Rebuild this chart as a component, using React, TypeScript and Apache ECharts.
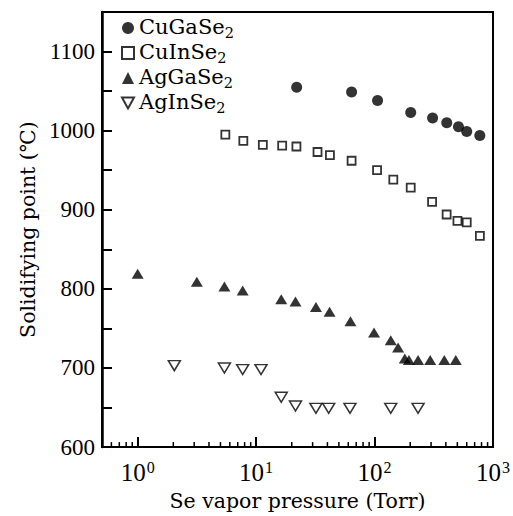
import React, { useEffect, useRef } from "react";
import * as echarts from "echarts";

const seriesNames = ["CuGaSe2", "CuInSe2", "AgGaSe2", "AgInSe2"];

const cuGaSe2X = [22, 64, 106, 202, 309, 407, 511, 600, 774];
const cuGaSe2Y = [1055, 1049, 1038, 1023, 1016, 1010, 1005, 999, 994];

const cuInSe2X = [5.5, 7.8, 11.4, 16.6, 21.9, 33, 42, 64, 105, 144, 202, 306, 406, 501, 600, 775];
const cuInSe2Y = [995, 987, 982, 981, 980, 973, 969, 962, 950, 938, 928, 910, 894, 886, 884, 867];

const agGaSe2X = [1.0, 3.16, 5.4, 7.7, 16.3, 21.5, 32, 41.7, 62.6, 99, 137, 158, 180, 195, 233, 295, 388, 485];
const agGaSe2Y = [819, 809, 803, 798, 787, 784, 777, 771, 759, 745, 735, 726, 712, 710, 710, 710, 710, 710];

const agInSe2X = [2.04, 5.4, 7.7, 11, 16.3, 21.5, 32, 41, 62, 137, 233];
const agInSe2Y = [703, 700, 698, 698, 663, 652, 649, 649, 649, 649, 649];

const xMin = 0.5;
const xMax = 1000;
const yMin = 600;
const yMax = 1150;
const xMinorTicks = [0.6, 0.7, 0.8, 0.9, 2, 3, 4, 5, 6, 7, 8, 9, 20, 30, 40, 50, 60, 70, 80, 90, 200, 300, 400, 500, 600, 700, 800, 900];

const TEXT_FONT = "DejaVu Serif";
const NUM_FONT = "Liberation Serif";

function zip(xs: number[], ys: number[]) {
  return xs.map((x, i) => [x, ys[i]]);
}

export default function App() {
  const ref = useRef<HTMLDivElement>(null);
  useEffect(() => {
    document.body.style.margin = "0";
    const chart = echarts.init(ref.current!, null, { renderer: "svg" });
    const downTri = "path://M0,0L10,0L5,9Z";
    chart.setOption({
      animation: false,
      backgroundColor: "#fff",
      grid: {
        left: 102,
        right: 17,
        top: 12,
        bottom: 66,
        show: true,
        borderColor: "#000",
        borderWidth: 2,
        backgroundColor: "transparent",
      },
      legend: {
        data: seriesNames,
        orient: "vertical",
        left: 121,
        top: 16,
        padding: 0,
        itemWidth: 12,
        itemHeight: 12,
        itemGap: 1,
        selectedMode: false,
        formatter: (name: string) => `{t|${name.slice(0, -1)}}{sub|${name.slice(-1)}}`,
        textStyle: {
          rich: {
            t: { fontFamily: TEXT_FONT, fontSize: 21, color: "#000", lineHeight: 24, verticalAlign: "top" },
            sub: { fontFamily: TEXT_FONT, fontSize: 14.5, color: "#000", lineHeight: 12, verticalAlign: "bottom" },
          },
        },
      },
      xAxis: {
        type: "log",
        logBase: 10,
        min: xMin,
        max: xMax,
        name: "Se vapor pressure (Torr)",
        nameLocation: "middle",
        nameGap: 41,
        nameTextStyle: { fontFamily: TEXT_FONT, fontSize: 20.5, color: "#000" },
        axisLine: { lineStyle: { color: "#000", width: 2 } },
        axisTick: { inside: true, length: 10, lineStyle: { color: "#000", width: 2 } },
        splitLine: { show: false },
        axisLabel: {
          margin: 12,
          formatter: (v: number) => {
            const e = Math.log10(v);
            const r = Math.round(e);
            if (Math.abs(e - r) > 1e-6) return "";
            return `{b|10}{s|${r}}`;
          },
          rich: {
            b: { fontFamily: NUM_FONT, fontSize: 25, color: "#000", lineHeight: 26, verticalAlign: "bottom" },
            s: { fontFamily: NUM_FONT, fontSize: 16, color: "#000", lineHeight: 15, verticalAlign: "top", padding: [0, 0, 0, 1] },
          },
        },
      },
      yAxis: {
        type: "value",
        min: yMin,
        max: yMax,
        interval: 50,
        name: "Solidifying point (℃)",
        nameLocation: "middle",
        nameGap: 58,
        nameTextStyle: { fontFamily: TEXT_FONT, fontSize: 20.5, color: "#000" },
        axisLine: { show: true, lineStyle: { color: "#000", width: 2.5 } },
        axisTick: { inside: true, length: 10, lineStyle: { color: "#000", width: 2 } },
        splitLine: { show: false },
        axisLabel: {
          margin: 7,
          fontFamily: NUM_FONT,
          fontSize: 23,
          color: "#000",
          formatter: (v: number) => (v % 100 === 0 ? String(v) : ""),
        },
      },
      series: [
        {
          name: "CuGaSe2",
          type: "scatter",
          symbol: "circle",
          symbolSize: 11,
          itemStyle: { color: "#000" },
          data: zip(cuGaSe2X, cuGaSe2Y),
        },
        {
          name: "CuInSe2",
          type: "scatter",
          symbol: "rect",
          symbolSize: 8,
          itemStyle: { color: "#fff", borderColor: "#000", borderWidth: 1.8 },
          data: zip(cuInSe2X, cuInSe2Y),
        },
        {
          name: "AgGaSe2",
          type: "scatter",
          symbol: "triangle",
          symbolSize: [12, 10],
          itemStyle: { color: "#000" },
          data: zip(agGaSe2X, agGaSe2Y),
        },
        {
          name: "AgInSe2",
          type: "scatter",
          symbol: downTri,
          symbolSize: [12, 10],
          itemStyle: { color: "#fff", borderColor: "#000", borderWidth: 1.5 },
          data: zip(agInSe2X, agInSe2Y),
        },
        {
          type: "custom",
          silent: true,
          clip: false,
          encode: { x: 0, y: 1 },
          data: xMinorTicks.map((v) => [v, yMin]),
          renderItem: (_params: any, api: any) => {
            const p = api.coord([api.value(0), api.value(1)]);
            return {
              type: "line",
              shape: { x1: p[0], y1: p[1], x2: p[0], y2: p[1] - 5 },
              style: { stroke: "#000", lineWidth: 1.5 },
            };
          },
        },
      ],
    });
    return () => chart.dispose();
  }, []);
  return <div ref={ref} style={{ width: 513, height: 516 }} />;
}
